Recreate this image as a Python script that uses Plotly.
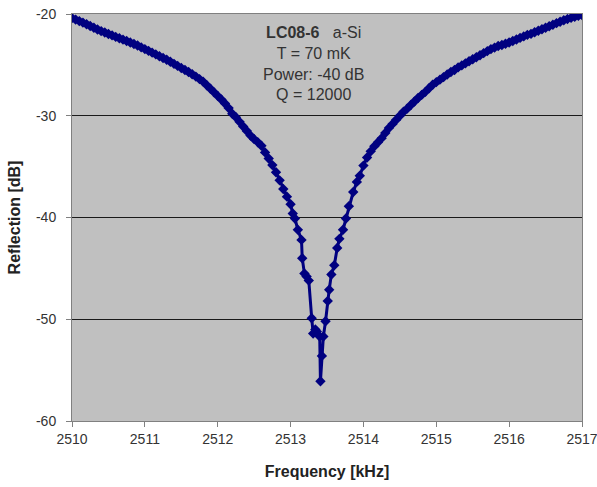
import plotly.graph_objects as go

freq_khz = [
    2510.00, 2510.05, 2510.10, 2510.15, 2510.20, 2510.25, 2510.30, 2510.35, 2510.40, 2510.45,
    2510.50, 2510.55, 2510.60, 2510.65, 2510.70, 2510.75, 2510.80, 2510.85, 2510.90, 2510.95,
    2511.00, 2511.05, 2511.10, 2511.15, 2511.20, 2511.25, 2511.30, 2511.35, 2511.40, 2511.45,
    2511.50, 2511.55, 2511.60, 2511.65, 2511.70, 2511.75, 2511.80, 2511.85, 2511.90, 2511.95,
    2512.00, 2512.05, 2512.10, 2512.15, 2512.20, 2512.25, 2512.30, 2512.35, 2512.40, 2512.45,
    2512.50, 2512.55, 2512.60, 2512.65, 2512.70, 2512.75, 2512.80, 2512.85, 2512.90, 2512.95,
    2513.00, 2513.03, 2513.06, 2513.10, 2513.15, 2513.16, 2513.19, 2513.22, 2513.25, 2513.29,
    2513.31, 2513.34, 2513.36, 2513.40, 2513.41, 2513.43, 2513.45, 2513.48, 2513.51, 2513.53,
    2513.56, 2513.60, 2513.64, 2513.67, 2513.72, 2513.76, 2513.80, 2513.86, 2513.91, 2513.95,
    2514.00, 2514.05, 2514.10, 2514.15, 2514.20, 2514.25, 2514.30, 2514.35, 2514.40, 2514.45,
    2514.50, 2514.55, 2514.60, 2514.65, 2514.70, 2514.75, 2514.80, 2514.85, 2514.90, 2514.95,
    2515.00, 2515.05, 2515.10, 2515.15, 2515.20, 2515.25, 2515.30, 2515.35, 2515.40, 2515.45,
    2515.50, 2515.55, 2515.60, 2515.65, 2515.70, 2515.75, 2515.80, 2515.85, 2515.90, 2515.95,
    2516.00, 2516.05, 2516.10, 2516.15, 2516.20, 2516.25, 2516.30, 2516.35, 2516.40, 2516.45,
    2516.50, 2516.55, 2516.60, 2516.65, 2516.70, 2516.75, 2516.80, 2516.85, 2516.90, 2516.95,
    2517.00,
]

reflection_db = [
    -20.40, -20.55, -20.70, -20.85, -21.00, -21.18, -21.35, -21.52, -21.68, -21.82,
    -21.96, -22.10, -22.25, -22.38, -22.52, -22.66, -22.80, -22.95, -23.10, -23.28,
    -23.45, -23.62, -23.80, -23.97, -24.15, -24.32, -24.50, -24.70, -24.90, -25.10,
    -25.30, -25.50, -25.70, -25.92, -26.15, -26.40, -26.65, -27.00, -27.35, -27.70,
    -28.05, -28.40, -28.80, -29.25, -29.80, -30.15, -30.60, -31.05, -31.50, -31.95,
    -32.30, -32.60, -32.95, -33.60, -34.20, -34.85, -35.55, -36.35, -37.20, -37.95,
    -38.70, -39.60, -40.10, -41.20, -42.20, -44.00, -45.50, -45.80, -46.20, -49.90,
    -51.40, -51.00, -51.20, -51.70, -56.10, -53.60, -51.70, -50.20, -48.20, -47.10,
    -45.60, -44.70, -43.00, -42.10, -41.20, -40.10, -38.90, -37.50, -36.50, -35.90,
    -34.90, -34.10, -33.50, -33.00, -32.60, -32.20, -31.70, -31.20, -30.80, -30.40,
    -30.00, -29.60, -29.30, -28.95, -28.60, -28.25, -27.95, -27.65, -27.30, -26.95,
    -26.70, -26.45, -26.20, -25.95, -25.70, -25.50, -25.25, -25.05, -24.85, -24.65,
    -24.45, -24.25, -24.05, -23.85, -23.65, -23.45, -23.30, -23.15, -23.05, -22.92,
    -22.80, -22.65, -22.50, -22.35, -22.20, -22.05, -21.95, -21.80, -21.65, -21.50,
    -21.35, -21.20, -21.05, -20.90, -20.76, -20.62, -20.50, -20.38, -20.27, -20.17,
    -20.10,
]

x_ticks = [2510, 2511, 2512, 2513, 2514, 2515, 2516, 2517]
x_tick_labels = ["2510", "2511", "2512", "2513", "2514", "2515", "2516", "2517"]
y_ticks = [-60, -50, -40, -30, -20]
y_tick_labels = ["-60", "-50", "-40", "-30", "-20"]

annotation_text = "<b>LC08-6</b>   a-Si<br>T = 70 mK<br>Power: -40 dB<br>Q = 12000"

FONT = "Liberation Sans, Arial, sans-serif"

fig = go.Figure()
fig.add_trace(go.Scatter(
    x=freq_khz, y=reflection_db,
    mode="lines+markers",
    line=dict(color="#000080", width=3),
    marker=dict(symbol="diamond", size=8, color="#000080"),
    showlegend=False,
))

fig.add_annotation(
    x=0.474, y=1.0, xref="paper", yref="paper",
    xanchor="center", yanchor="top", yshift=-8,
    text=annotation_text, showarrow=False, align="center",
    font=dict(family=FONT, size=16, color="#333333"),
)

fig.update_layout(
    width=597, height=487,
    margin=dict(l=72, r=15, t=14, b=66),
    paper_bgcolor="white",
    plot_bgcolor="#c0c0c0",
    font=dict(family=FONT, size=14, color="#333333"),
    xaxis=dict(
        range=[2510, 2517], tickvals=x_ticks, ticktext=x_tick_labels,
        ticks="outside", ticklen=5, tickcolor="#808080",
        showgrid=False, zeroline=False, automargin=False,
        ticklabeloverflow="allow",
        showline=True, linecolor="#808080", linewidth=1, mirror=True,
        title=dict(text="<b>Frequency [kHz]</b>", font=dict(size=16, color="#222222"), standoff=20),
        tickfont=dict(size=14, color="#333333"),
    ),
    yaxis=dict(
        range=[-60, -20], tickvals=y_ticks, ticktext=y_tick_labels,
        ticks="outside", ticklen=5, tickcolor="#808080",
        showgrid=True, gridcolor="#1a1a1a", gridwidth=1.2,
        zeroline=False, automargin=False,
        ticklabeloverflow="allow",
        showline=True, linecolor="#808080", linewidth=1, mirror=True,
        ticklabelstandoff=7,
        title=dict(text="<b>Reflection [dB]</b>", font=dict(size=16, color="#222222"), standoff=11),
        tickfont=dict(size=14, color="#333333"),
    ),
)

fig.write_html(
    "out.html",
    config={"displayModeBar": False},
    post_script="document.body.style.margin='0';",
)
